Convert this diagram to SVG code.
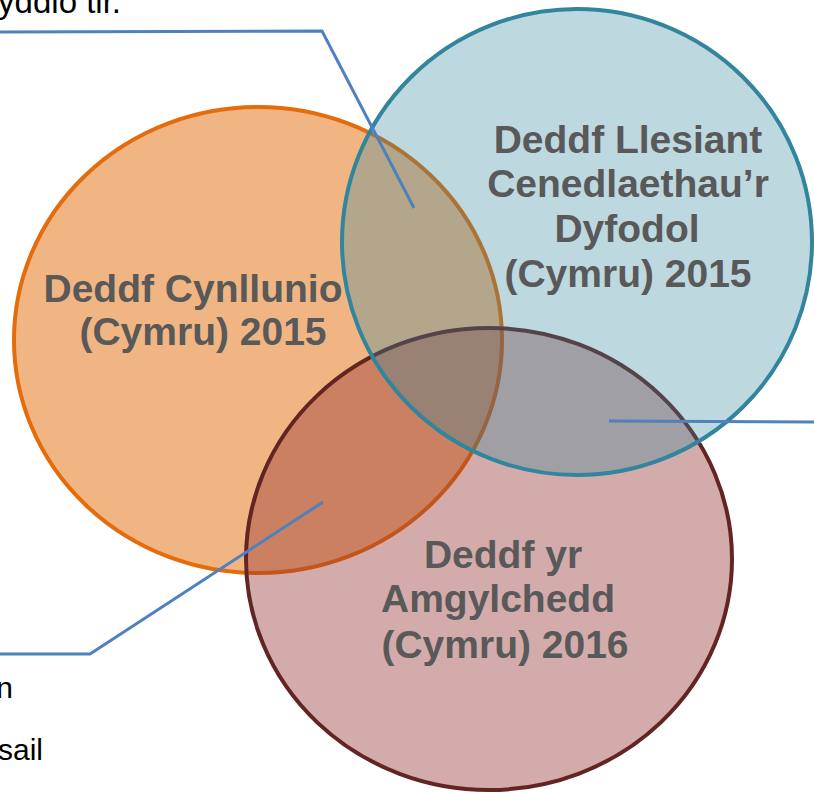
<svg xmlns="http://www.w3.org/2000/svg" width="814" height="793" viewBox="0 0 814 793">
<style>
.lbl{font-family:"Liberation Sans",Arial,sans-serif;font-weight:bold;font-size:39px;fill:#595959;text-anchor:middle}
.edge{font-family:"Liberation Sans",Arial,sans-serif;font-size:30px;fill:#000;text-anchor:end}
.conn{fill:none;stroke:#4F81BD;stroke-width:3;stroke-linejoin:miter}
.circ{stroke-width:4}
</style>
<rect width="814" height="793" fill="#ffffff"/>
<g id="node-cynllunio">
<ellipse class="circ" cx="258" cy="340" rx="244" ry="233" fill="#E46C0A" fill-opacity="0.5" stroke="#E46C0A"/>
</g>
<g id="node-amgylchedd">
<ellipse class="circ" cx="489" cy="559" rx="243" ry="231" fill="#953735" fill-opacity="0.42" stroke="#632523"/>
</g>
<g id="node-llesiant">
<ellipse class="circ" cx="577" cy="242" rx="235" ry="233" fill="#31859C" fill-opacity="0.32" stroke="#31859C"/>
</g>
<g id="connectors">
<polyline class="conn" points="0,32 322,31 414,208"/>
<polyline class="conn" points="0,654 90,654 323,502"/>
<polyline class="conn" points="609,421 814,422"/>
</g>
<g id="labels">
<text class="lbl" x="193" y="302">Deddf Cynllunio</text>
<text class="lbl" x="203" y="345">(Cymru) 2015</text>
<text class="lbl" x="628" y="153">Deddf Llesiant</text>
<text class="lbl" x="628" y="197">Cenedlaethau’r</text>
<text class="lbl" x="627" y="242">Dyfodol</text>
<text class="lbl" x="628" y="287">(Cymru) 2015</text>
<text class="lbl" x="503" y="568">Deddf yr</text>
<text class="lbl" x="498" y="612">Amgylchedd</text>
<text class="lbl" x="505" y="658">(Cymru) 2016</text>
</g>
<g id="edge-text">
<text class="edge" x="121" y="13" style="font-size:33px">yddio tir.</text>
<text class="edge" x="13" y="698">n</text>
<text class="edge" x="43" y="760">sail</text>
</g>
</svg>
